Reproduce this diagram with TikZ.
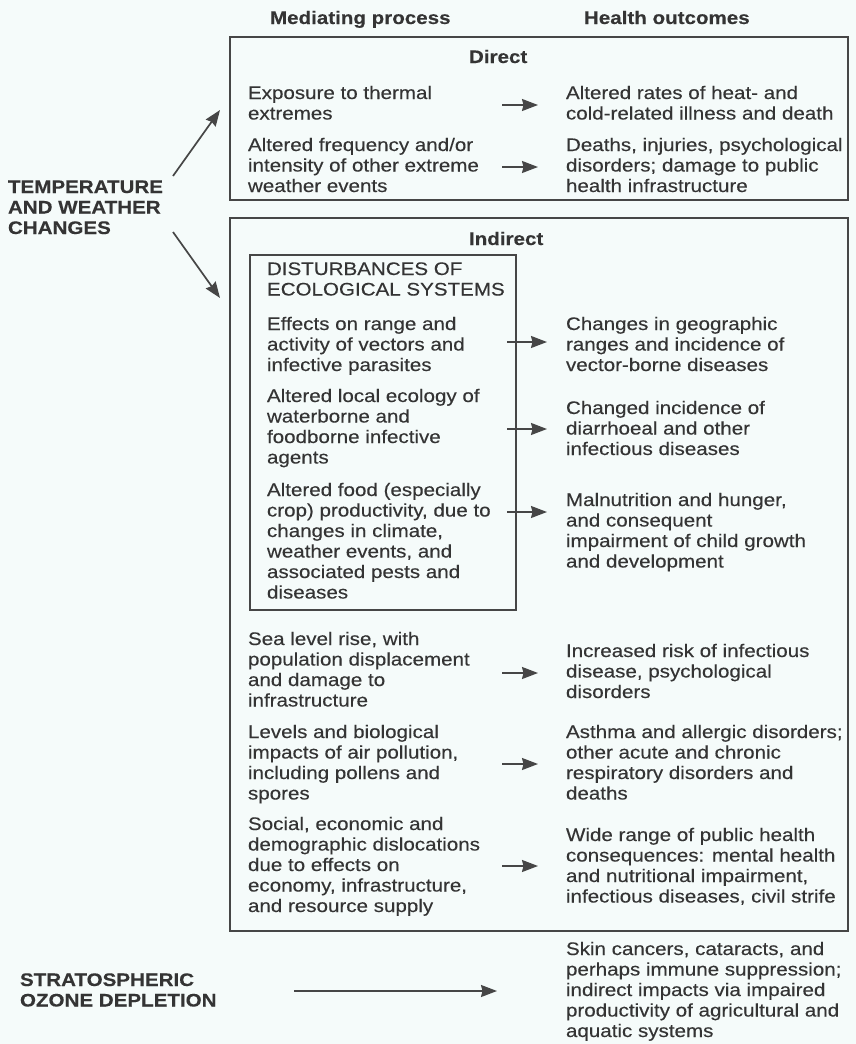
\documentclass[tikz,border=0pt]{standalone}
\usepackage{fontspec}
\setmainfont{Liberation Sans}[FakeStretch=1.13, UprightFeatures={FakeBold=0.25}, BoldFeatures={FakeBold=0.2}]
\usetikzlibrary{arrows.meta}
\definecolor{bg}{RGB}{245,251,250}
\definecolor{ink}{RGB}{52,52,52}
\definecolor{ln}{RGB}{70,70,70}
\newcommand\fsz{\fontsize{18.2}{20.5}\selectfont}
\tikzset{
  txt/.style={inner sep=0pt, outer sep=0pt, align=left, anchor=north west, yshift=14.35pt, text=ink, font=\fsz},
  btxt/.style={txt, font=\fsz\bfseries},
  hdr/.style={inner sep=0pt, outer sep=0pt, anchor=base west, text=ink, font=\fsz\bfseries},
  boxst/.style={draw=ln, line width=1.7pt, inner sep=0pt, outer sep=0pt, anchor=north west},
  arr/.style={draw=ln, line width=1.7pt, -{Stealth[length=16pt,width=12pt,inset=1.5pt]}}
}
\begin{document}
\begin{tikzpicture}[x=1pt,y=-1pt]
\useasboundingbox (0,0) rectangle (856,1044);
\fill[bg] (0,0) rectangle (856,1044);

% headers
\node[hdr] (hmed) at (270,24) {Mediating process};
\node[hdr] (hout) at (584,24) {Health outcomes};

% boxes
\node[boxst, minimum width=618pt, minimum height=163pt] (dbox) at (230,37) {};
\node[boxst, minimum width=618pt, minimum height=713pt] (ibox) at (230,218) {};
\node[boxst, minimum width=266pt, minimum height=355pt] (ebox) at (250,255) {};

\node[hdr] (direct) at (469,63) {Direct};
\node[hdr] (indirect) at (469,245) {Indirect};

% left labels
\node[btxt] (temp) at (8,193) {\strut TEMPERATURE\\AND WEATHER\\CHANGES};
\node[btxt] (ozone) at (20,986) {\strut STRATOSPHERIC\\OZONE DEPLETION};

% direct rows
\node[txt] (l1) at (248,99) {\strut Exposure to thermal\\extremes};
\node[txt] (r1) at (566,99) {\strut Altered rates of heat- and\\cold-related illness and death};
\node[txt] (l2) at (248,151) {\strut Altered frequency and/or\\intensity of other extreme\\weather events};
\node[txt] (r2) at (566,151) {\strut Deaths, injuries, psychological\\disorders; damage to public\\health infrastructure};

% ecological systems
\node[txt] (dist) at (267,275) {\strut DISTURBANCES OF\\ECOLOGICAL SYSTEMS};
\node[txt] (e1) at (267,330) {\strut Effects on range and\\activity of vectors and\\infective parasites};
\node[txt] (c1) at (566,330) {\strut Changes in geographic\\ranges and incidence of\\vector-borne diseases};
\node[txt] (e2) at (267,402) {\strut Altered local ecology of\\waterborne and\\foodborne infective\\agents};
\node[txt] (c2) at (566,414) {\strut Changed incidence of\\diarrhoeal and other\\infectious diseases};
\node[txt] (e3) at (267,496) {\strut Altered food (especially\\crop) productivity, due to\\changes in climate,\\weather events, and\\associated pests and\\diseases};
\node[txt] (c3) at (566,506) {\strut Malnutrition and hunger,\\and consequent\\impairment of child growth\\and development};

% other indirect
\node[txt] (s1) at (248,645) {\strut Sea level rise, with\\population displacement\\and damage to\\infrastructure};
\node[txt] (o1) at (566,657) {\strut Increased risk of infectious\\disease, psychological\\disorders};
\node[txt] (s2) at (248,738) {\strut Levels and biological\\impacts of air pollution,\\including pollens and\\spores};
\node[txt] (o2) at (566,738) {\strut Asthma and allergic disorders;\\other acute and chronic\\respiratory disorders and\\deaths};
\node[txt] (s3) at (248,830) {\strut Social, economic and\\demographic dislocations\\due to effects on\\economy, infrastructure,\\and resource supply};
\node[txt] (o3) at (566,841) {\strut Wide range of public health\\consequences: mental health\\and nutritional impairment,\\infectious diseases, civil strife};

% ozone outcome
\node[txt] (sk) at (566,955) {\strut Skin cancers, cataracts, and\\perhaps immune suppression;\\indirect impacts via impaired\\productivity of agricultural and\\aquatic systems};

% arrow end points
\coordinate (tu0) at (173,176); \coordinate (tu1) at (220,110);
\coordinate (td0) at (173,232); \coordinate (td1) at (220,298);
\coordinate (a1s) at (502,105); \coordinate (a1e) at (538,105);
\coordinate (a2s) at (502,167); \coordinate (a2e) at (538,167);
\coordinate (b1s) at (507,342); \coordinate (b1e) at (547,342);
\coordinate (b2s) at (507,429); \coordinate (b2e) at (547,429);
\coordinate (b3s) at (507,512); \coordinate (b3e) at (547,512);
\coordinate (c1s) at (502,673); \coordinate (c1e) at (538,673);
\coordinate (c2s) at (502,764); \coordinate (c2e) at (538,764);
\coordinate (c3s) at (502,866); \coordinate (c3e) at (538,866);
\coordinate (z0) at (294,991); \coordinate (z1) at (497,991);

\draw[arr] (tu0) -- (tu1);
\draw[arr] (td0) -- (td1);
\draw[arr] (a1s) -- (a1e);
\draw[arr] (a2s) -- (a2e);
\draw[arr] (b1s) -- (b1e);
\draw[arr] (b2s) -- (b2e);
\draw[arr] (b3s) -- (b3e);
\draw[arr] (c1s) -- (c1e);
\draw[arr] (c2s) -- (c2e);
\draw[arr] (c3s) -- (c3e);
\draw[arr] (z0) -- (z1);
\end{tikzpicture}
\end{document}
